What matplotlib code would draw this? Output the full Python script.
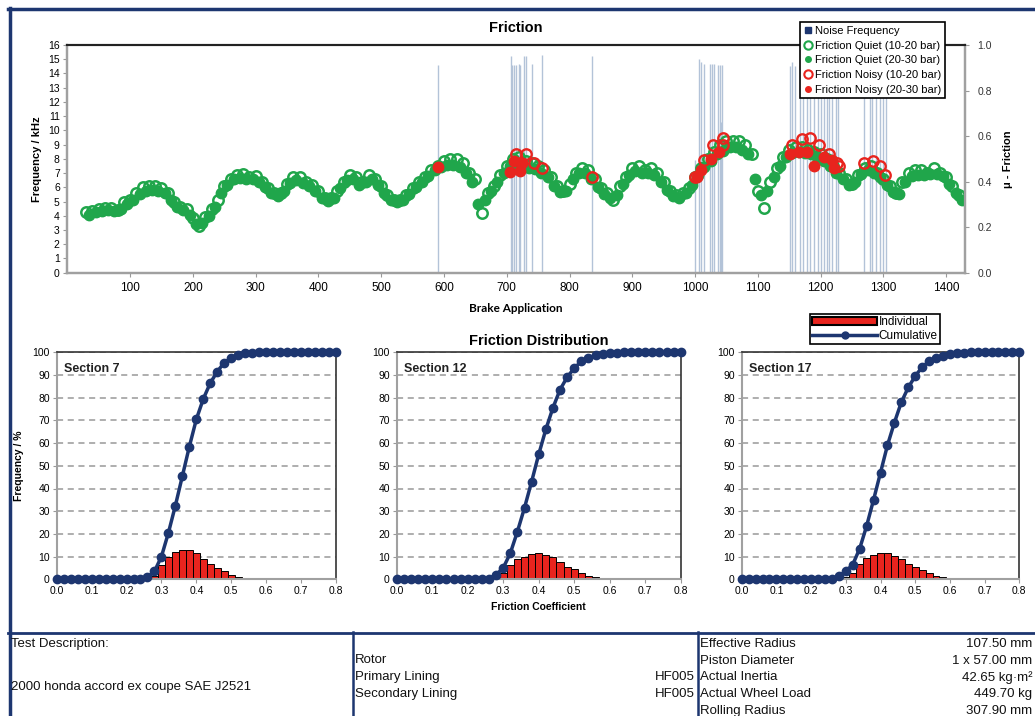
import numpy as np
import matplotlib.pyplot as plt
from matplotlib.lines import Line2D
from matplotlib.patches import Patch

plt.rcParams['font.family'] = ['Liberation Sans', 'DejaVu Sans']

# ---- top chart data: friction per brake application ----
app_1020 = np.arange(30, 1430, 10)
mu_quiet_1020 = [
    0.265, 0.27, 0.28, 0.285, 0.285, 0.275, 0.31, 0.32, 0.35, 0.375,
    0.38, 0.38, 0.37, 0.35, 0.31, 0.29, 0.28, 0.24, 0.205, 0.245,
    0.28, 0.32, 0.38, 0.41, 0.43, 0.435, 0.42, 0.425, 0.40, 0.37,
    0.35, 0.35, 0.39, 0.42, 0.42, 0.40, 0.385, 0.36, 0.33, 0.33,
    0.36, 0.40, 0.43, 0.42, 0.40, 0.43, 0.41, 0.38, 0.34, 0.32,
    0.32, 0.34, 0.37, 0.40, 0.42, 0.45, 0.47, 0.49, 0.50, 0.50,
    0.48, 0.44, 0.41, 0.26, 0.35, 0.38, 0.43, 0.47, 0.50, 0.51,
    0.49, 0.48, 0.47, 0.45, 0.42, 0.38, 0.36, 0.39, 0.44, 0.46,
    0.45, 0.41, 0.37, 0.35, 0.32, 0.38, 0.42, 0.46, 0.47, 0.45,
    0.46, 0.44, 0.40, 0.36, 0.34, 0.35, 0.37, 0.42, 0.46, 0.50,
    0.53, 0.56, 0.58, 0.58, 0.58, 0.56, 0.52, 0.36, 0.285, 0.40,
    0.46, 0.51, 0.54, 0.55, 0.55, 0.54, 0.53, 0.52, 0.50, 0.47,
    0.44, 0.41, 0.39, 0.43, 0.46, 0.47, 0.44, 0.41, 0.38, 0.35,
    0.40, 0.44, 0.45, 0.45, 0.44, 0.46, 0.44, 0.42, 0.38, 0.34,
]
app_2030 = np.arange(35, 1435, 10)
mu_quiet_2030 = [
    0.255, 0.265, 0.27, 0.275, 0.27, 0.28, 0.30, 0.32, 0.345, 0.36,
    0.365, 0.36, 0.35, 0.32, 0.29, 0.275, 0.255, 0.215, 0.22, 0.25,
    0.29, 0.35, 0.385, 0.41, 0.415, 0.41, 0.41, 0.40, 0.375, 0.35,
    0.335, 0.36, 0.395, 0.405, 0.395, 0.38, 0.36, 0.33, 0.315, 0.33,
    0.37, 0.405, 0.41, 0.385, 0.40, 0.41, 0.385, 0.35, 0.32, 0.31,
    0.32, 0.345, 0.375, 0.40, 0.425, 0.45, 0.465, 0.475, 0.475, 0.465,
    0.44, 0.40, 0.30, 0.32, 0.36, 0.40, 0.44, 0.47, 0.48, 0.47,
    0.46, 0.455, 0.44, 0.42, 0.38, 0.355, 0.36, 0.41, 0.44, 0.44,
    0.41, 0.375, 0.345, 0.33, 0.34, 0.39, 0.43, 0.445, 0.44, 0.44,
    0.43, 0.40, 0.365, 0.335, 0.33, 0.35, 0.385, 0.43, 0.465, 0.49,
    0.52, 0.535, 0.55, 0.55, 0.54, 0.52, 0.41, 0.34, 0.36, 0.42,
    0.47, 0.51, 0.525, 0.53, 0.525, 0.52, 0.51, 0.49, 0.47, 0.44,
    0.41, 0.385, 0.40, 0.435, 0.45, 0.44, 0.42, 0.385, 0.355, 0.345,
    0.40, 0.425, 0.43, 0.43, 0.435, 0.435, 0.425, 0.39, 0.35, 0.32,
]

noisy_1020_app = [714, 730, 743, 756, 836, 1000, 1015, 1029, 1044, 1044,
                  1155, 1170, 1183, 1198, 1213, 1226, 1230, 1269, 1283, 1294, 1303]
noisy_1020_mu = [0.52, 0.52, 0.48, 0.46, 0.42, 0.42, 0.495, 0.56, 0.56, 0.59,
                 0.56, 0.585, 0.59, 0.56, 0.52, 0.48, 0.47, 0.48, 0.49, 0.47, 0.43]
noisy_2030_app = [591, 705, 711, 721, 724, 1003, 1010, 1025, 1038,
                  1151, 1165, 1178, 1189, 1205, 1218, 1221]
noisy_2030_mu = [0.4625, 0.444, 0.49, 0.448, 0.48, 0.42, 0.45, 0.50, 0.53,
                 0.52, 0.53, 0.53, 0.47, 0.51, 0.495, 0.46]

noise_app = [591, 707, 709, 712, 715, 719, 721, 728, 730, 741, 756, 836,
             1000, 1006, 1010, 1014, 1024, 1027, 1030, 1036, 1040, 1041, 1043,
             1151, 1155, 1159, 1167, 1172, 1178, 1183, 1189, 1196, 1200, 1205,
             1210, 1213, 1218, 1224, 1228,
             1269, 1278, 1282, 1288, 1294, 1299, 1304]
noise_khz = [14.6, 15.2, 14.6, 14.6, 14.6, 14.7, 14.6, 15.2, 15.2, 14.7, 15.3, 15.2,
             7.9, 15.0, 14.8, 14.7, 14.7, 14.7, 14.7, 14.6, 14.6, 10.6, 14.6,
             14.5, 14.8, 14.5, 14.6, 14.9, 14.5, 14.7, 14.6, 14.5, 14.8, 14.6,
             14.5, 14.7, 14.6, 14.5, 14.6,
             14.4, 14.5, 14.6, 14.4, 14.5, 14.4, 14.5]

# ---- friction distribution data (bins 0.00 .. 0.80 step 0.02) ----
bins = [i * 0.02 for i in range(41)]
sections = ['Section 7', 'Section 12', 'Section 17']
individual = [
    [0] * 14 + [1.5, 6.3, 10.0, 11.9, 12.8, 13.0, 11.5, 8.8, 6.6, 4.8, 3.8, 1.9,
                0.9, 0.4, 0.2, 0.1] + [0] * 11,
    [0] * 14 + [1.0, 2.6, 6.3, 9.1, 10.0, 11.2, 11.5, 10.7, 9.7, 7.5, 5.6, 4.4,
                2.6, 1.6, 0.8, 0.5, 0.3, 0.2, 0.1] + [0] * 8,
    [0] * 15 + [1.2, 2.6, 6.8, 9.3, 10.7, 11.8, 11.8, 10.3, 8.8, 6.8, 5.3, 4.1,
                2.9, 1.6, 1.0, 0.6, 0.4, 0.2, 0.1, 0.05] + [0] * 6,
]
cumulative = [
    [0] * 13 + [1.0, 3.5, 10, 20.5, 32.5, 45.5, 58.5, 70.5, 79.5, 86.5, 91.5,
                95.5, 97.5, 99.0, 99.5, 99.8] + [100] * 12,
    [0] * 13 + [0.3, 2, 5, 11.5, 21, 31.5, 43, 55, 66, 75.5, 83.5, 89, 93, 96,
                97.5, 98.7, 99.3, 99.6, 99.8] + [100] * 9,
    [0] * 13 + [0.3, 1.5, 3.5, 6.5, 13.5, 23.5, 35, 47, 59, 69, 78, 84.5, 89.5,
                93.5, 96, 97.5, 98.5, 99.2, 99.5, 99.8] + [100] * 8,
]

green = '#20a64b'
red = '#e8241e'
navy = '#1d3670'
W, H = 1035, 716


def box(l, t, r, b):
    return [l / W, 1 - b / H, (r - l) / W, (b - t) / H]


fig = plt.figure(figsize=(W / 100, H / 100), dpi=100)

# ---- top chart ----
ax = fig.add_axes(box(66.7, 45, 965, 272.7))
ax.vlines(noise_app, 0, noise_khz, color='#b3c3d8', lw=1)
ax.set_xlim(-1, 1430)
ax.set_ylim(0, 16)
ax.set_yticks(range(17))
ax.set_xticks(range(100, 1500, 100))
ax.tick_params(axis='y', labelsize=7.5, length=3, color='#999999', pad=2)
ax.tick_params(axis='x', labelsize=8.5, length=3, color='#999999', pad=4)
ax.set_ylabel('Frequency / kHz', fontsize=8, fontweight='bold', labelpad=4)
ax.set_xlabel('Brake Application', fontsize=8.5, fontweight='bold',
              family=['Lato', 'DejaVu Sans'], labelpad=6)
ax.set_title('Friction', fontsize=10.5, fontweight='bold', pad=9)

ax2 = ax.twinx()
ax2.set_ylim(0, 1)
ax2.set_yticks([0, 0.2, 0.4, 0.6, 0.8, 1.0])
ax2.set_yticklabels(['0.0', '0.2', '0.4', '0.6', '0.8', '1.0'])
ax2.tick_params(axis='y', labelsize=7.5, length=3, color='#999999', pad=6,
                labelcolor='#333333')
ax2.set_ylabel('μ - Friction', fontsize=8, fontweight='bold', labelpad=8)
ax2.plot(app_1020, mu_quiet_1020, 'o', mfc='none', mec=green, mew=1.8, ms=7.5)
ax2.plot(app_2030, mu_quiet_2030, 'o', color=green, ms=7.5)
ax2.plot(noisy_1020_app, noisy_1020_mu, 'o', mfc='none', mec=red, mew=1.7, ms=7.5)
ax2.plot(noisy_2030_app, noisy_2030_mu, 'o', color=red, ms=7.5)

for a in (ax, ax2):
    for s in ('left', 'right', 'bottom'):
        a.spines[s].set_color('#a0a0a0')
        a.spines[s].set_linewidth(1.6)
    a.spines['top'].set_color('#222222')
    a.spines['top'].set_linewidth(1.5)

handles = [
    Line2D([], [], marker='s', color=navy, ls='none', ms=5),
    Line2D([], [], marker='o', mfc='none', mec=green, mew=1.5, ls='none', ms=6),
    Line2D([], [], marker='o', color=green, ls='none', ms=4),
    Line2D([], [], marker='o', mfc='none', mec=red, mew=1.5, ls='none', ms=6),
    Line2D([], [], marker='o', color=red, ls='none', ms=4),
]
labels = ['Noise Frequency', 'Friction Quiet (10-20 bar)', 'Friction Quiet (20-30 bar)',
          'Friction Noisy (10-20 bar)', 'Friction Noisy (20-30 bar)']
leg = ax2.legend(handles, labels, loc='upper left', bbox_to_anchor=(800 / W, 1 - 22 / H),
                 bbox_transform=fig.transFigure, fontsize=8, handlelength=0.8,
                 handletextpad=0.2, labelspacing=0.42, borderpad=0.35, fancybox=False,
                 framealpha=1, edgecolor='black', borderaxespad=0)
leg.get_frame().set_linewidth(1.2)

# ---- friction distribution panels ----
panel_px = [(56.7, 336), (396.7, 680.7), (741.7, 1019.3)]
for i, (l, r) in enumerate(panel_px):
    a = fig.add_axes(box(l, 352.3, r, 579.3))
    a.bar(bins, individual[i], width=0.02, color=red, edgecolor='black', lw=0.7, zorder=2)
    a.plot(bins, cumulative[i], '-o', color=navy, lw=2.5, ms=6, zorder=3, clip_on=False)
    a.set_xlim(0, 0.8)
    a.set_ylim(0, 100)
    a.set_yticks(range(0, 101, 10))
    a.set_xticks([0, 0.1, 0.2, 0.3, 0.4, 0.5, 0.6, 0.7, 0.8])
    a.set_xticklabels(['0.0', '0.1', '0.2', '0.3', '0.4', '0.5', '0.6', '0.7', '0.8'])
    a.grid(axis='y', color='#999999', ls=(0, (4, 3)), lw=1.1, zorder=1)
    a.set_axisbelow(True)
    a.tick_params(labelsize=7.5, length=3, color='#999999', pad=2)
    for s in ('left', 'bottom'):
        a.spines[s].set_color('#a0a0a0')
        a.spines[s].set_linewidth(1.5)
    for s in ('top', 'right'):
        a.spines[s].set_color('#333333')
        a.spines[s].set_linewidth(1.2)
    a.text(0.025, 0.955, sections[i], transform=a.transAxes, fontsize=9,
           fontweight='bold', va='top', ha='left', color='#222222')
    if i == 0:
        a.set_ylabel('Frequency / %', fontsize=7.5, fontweight='bold', labelpad=6)
    if i == 1:
        a.set_xlabel('Friction Coefficient', fontsize=7.5, fontweight='bold', labelpad=4)
        a.set_title('Friction Distribution', fontsize=10.5, fontweight='bold', pad=5)
    if i == 2:
        h2 = [Patch(facecolor=red, edgecolor='black', lw=1.5),
              Line2D([], [], color=navy, lw=2.5, marker='o', ms=5)]
        lg = a.legend(h2, ['Individual', 'Cumulative'], loc='upper left',
                      bbox_to_anchor=(810 / W, 1 - 314 / H), bbox_transform=fig.transFigure,
                      fontsize=8.5, handlelength=5.5, handleheight=0.6, handletextpad=0.1,
                      labelspacing=0.15, borderpad=0.2, fancybox=False, framealpha=1,
                      edgecolor='black', borderaxespad=0)
        lg.get_frame().set_linewidth(1.2)

# ---- frame lines and info table ----
def hline(y, x0, x1, lw):
    fig.add_artist(Line2D([x0 / W, x1 / W], [1 - y / H, 1 - y / H], color=navy, lw=lw))


def vline(x, y0, y1, lw):
    fig.add_artist(Line2D([x / W, x / W], [1 - y0 / H, 1 - y1 / H], color=navy, lw=lw))


hline(8.5, 8, 1035, 2.5)
vline(9.5, 7.5, 716, 2.5)
hline(632.5, 8, 1035, 2)
vline(352.5, 632, 716, 1.8)
vline(697.5, 632, 716, 1.8)

tkw = dict(fontsize=9.5, va='center', color='#111111')
fig.text(11 / W, 1 - 644 / H, 'Test Description:', ha='left', **tkw)
fig.text(11 / W, 1 - 687 / H, '2000 honda accord ex coupe SAE J2521', ha='left', **tkw)
fig.text(355 / W, 1 - 660 / H, 'Rotor', ha='left', **tkw)
fig.text(355 / W, 1 - 677 / H, 'Primary Lining', ha='left', **tkw)
fig.text(355 / W, 1 - 694 / H, 'Secondary Lining', ha='left', **tkw)
fig.text(695 / W, 1 - 677 / H, 'HF005', ha='right', **tkw)
fig.text(695 / W, 1 - 694 / H, 'HF005', ha='right', **tkw)
info_names = ['Effective Radius', 'Piston Diameter', 'Actual Inertia',
              'Actual Wheel Load', 'Rolling Radius']
info_values = ['107.50 mm', '1 x 57.00 mm', '42.65 kg·m²', '449.70 kg', '307.90 mm']
for k, (n, v) in enumerate(zip(info_names, info_values)):
    y = 1 - (644 + k * 16.7) / H
    fig.text(700 / W, y, n, ha='left', **tkw)
    fig.text(1032 / W, y, v, ha='right', **tkw)

fig.savefig('out.png', dpi=100)
